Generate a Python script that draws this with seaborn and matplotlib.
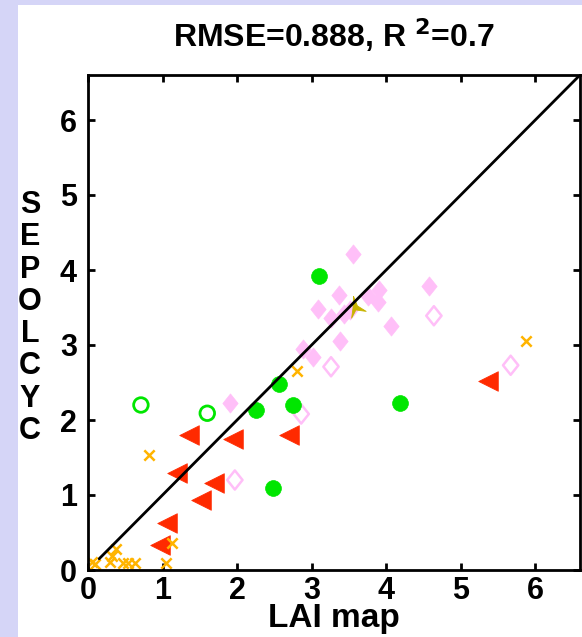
import matplotlib
matplotlib.use("Agg")
import matplotlib.pyplot as plt
import seaborn as sns
import pandas as pd
import numpy as np
from matplotlib.path import Path
from matplotlib.patches import Rectangle

# orange crosses
cross_x = [0.05, 0.09, 0.29, 0.32, 0.38, 0.47, 0.54, 0.63, 1.05, 1.13, 0.82, 2.81, 5.87]
cross_y = [0.11, 0.08, 0.11, 0.19, 0.28, 0.10, 0.10, 0.10, 0.10, 0.36, 1.54, 2.65, 3.05]

# red triangles
tri_x = [1.35, 1.95, 2.69, 1.19, 1.69, 1.52, 1.06, 0.97, 5.37]
tri_y = [1.80, 1.75, 1.80, 1.30, 1.16, 0.93, 0.63, 0.34, 2.52]

# green circles, filled and open
circ_x = [2.26, 2.75, 2.48, 3.10, 2.56, 4.19]
circ_y = [2.13, 2.20, 1.09, 3.92, 2.48, 2.23]
ocirc_x = [0.71, 1.60]
ocirc_y = [2.20, 2.09]

# pink diamonds, filled and open
dia_x = [1.90, 3.56, 3.37, 3.09, 3.26, 3.44, 3.52, 3.76, 3.91, 3.89, 4.07, 4.58, 3.38, 2.89, 3.02]
dia_y = [2.23, 4.21, 3.67, 3.48, 3.36, 3.42, 3.47, 3.66, 3.73, 3.57, 3.26, 3.79, 3.06, 2.95, 2.84]
odia_x = [3.26, 4.64, 2.86, 1.97, 5.67]
odia_y = [2.71, 3.39, 2.08, 1.20, 2.73]

# olive star
star_x = [3.58]
star_y = [3.51]

ORANGE = "#ffb400"
RED = "#ff2a00"
GREEN = "#00e600"
PINK = "#ffbff8"
OLIVE = "#c8b400"

sns.set_style("ticks")
plt.rcParams["font.family"] = ["Liberation Sans", "DejaVu Sans"]
plt.rcParams["font.weight"] = "bold"
plt.rcParams["text.color"] = "black"
plt.rcParams["axes.labelcolor"] = "black"
plt.rcParams["xtick.color"] = "black"
plt.rcParams["ytick.color"] = "black"
plt.rcParams["axes.edgecolor"] = "black"

fig = plt.figure(figsize=(5.82, 6.37), dpi=100, facecolor="#d5d5f7")
fig.patches.append(Rectangle((18 / 582, 0), 1, 1 - 5 / 637, transform=fig.transFigure,
                             facecolor="white", edgecolor="none", zorder=-5))
ax = fig.add_axes([88 / 582, 67 / 637, 492 / 582, 495 / 637])
ax.set_facecolor("white")

diamond = Path([(0, 1), (0.8, 0), (0, -1), (-0.8, 0), (0, 1)],
               [Path.MOVETO, Path.LINETO, Path.LINETO, Path.LINETO, Path.CLOSEPOLY])

# thin three-armed star
star_verts = []
for a in [100, -20, 250]:
    r = np.radians(a)
    star_verts.append((np.cos(r), np.sin(r)))
    r2 = np.radians(a - 60)
    star_verts.append((0.22 * np.cos(r2), 0.22 * np.sin(r2)))
star_verts.append(star_verts[0])
star = Path(star_verts)

sns.scatterplot(x=dia_x, y=dia_y, marker=diamond, s=190, color=PINK, edgecolor=PINK,
                linewidth=0.5, ax=ax, zorder=2)
sns.scatterplot(x=odia_x, y=odia_y, marker=diamond, s=190, facecolors="none", edgecolors=PINK,
                linewidth=1.8, ax=ax, zorder=2)
sns.scatterplot(x=circ_x, y=circ_y, marker="o", s=130, color=GREEN, edgecolor=GREEN,
                linewidth=0.5, ax=ax, zorder=2)
sns.scatterplot(x=ocirc_x, y=ocirc_y, marker="o", s=110, facecolors="none", edgecolors=GREEN,
                linewidth=2.0, ax=ax, zorder=2)
sns.scatterplot(x=tri_x, y=tri_y, marker="<", s=200, color=RED, edgecolor=RED,
                linewidth=0.5, ax=ax, zorder=2)
sns.scatterplot(x=cross_x, y=cross_y, marker="x", s=55, color=ORANGE,
                linewidth=1.8, ax=ax, zorder=2)
sns.scatterplot(x=star_x, y=star_y, marker=star, s=260, color=OLIVE, edgecolor=OLIVE,
                linewidth=0.6, ax=ax, zorder=2)

line = pd.DataFrame({"x": [0.15, 6.6], "y": [0.15, 6.6]})
sns.lineplot(data=line, x="x", y="y", color="black", linewidth=2.0, ax=ax, zorder=3)

ax.set_xlim(0, 6.6)
ax.set_ylim(0, 6.6)
ax.set_xticks(range(7))
ax.set_yticks(range(7))
ax.tick_params(direction="in", length=5, width=2, top=True, right=True, labelsize=22)
ax.tick_params(axis="x", pad=4)
ax.tick_params(axis="y", pad=8)
for lab in ax.get_xticklabels() + ax.get_yticklabels():
    lab.set_fontweight("bold")
for sp in ax.spines.values():
    sp.set_linewidth(2)
    sp.set_visible(True)

ax.set_xlabel("LAI map", fontsize=24, fontweight="bold", labelpad=-2)
ax.set_ylabel("")
ax.set_title(r"RMSE=0.888, R $^{\mathbf{2}}$=0.7", fontsize=23, fontweight="bold", pad=20)
fig.text(30 / 582, 1 - 318 / 637, "\n".join("SEPOLCYC"), fontsize=22, fontweight="bold",
         ha="center", va="center", linespacing=1.1)

fig.savefig("out.png", dpi=100, facecolor=fig.get_facecolor())
